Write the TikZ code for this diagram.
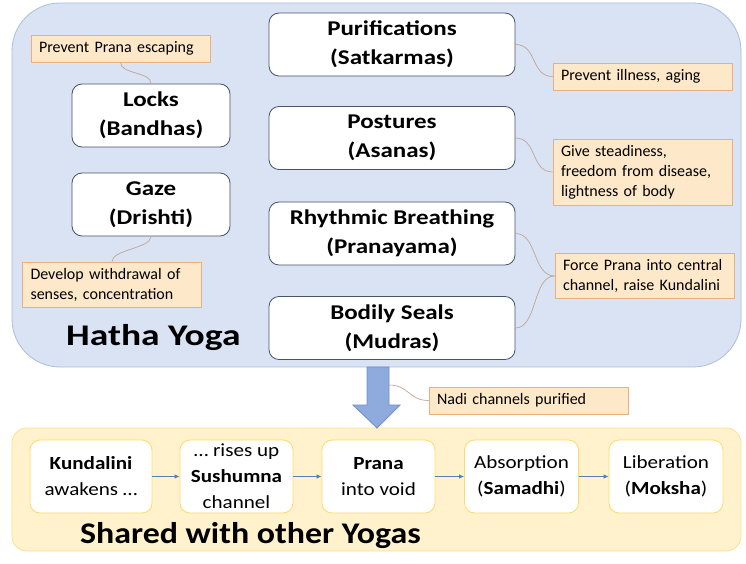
\documentclass[tikz,border=0pt]{standalone}
\usepackage{fontspec}
\setmainfont{Carlito}
\newfontfamily\practicefont[FakeStretch=1.19]{Carlito}
\newfontfamily\stagefont[FakeStretch=1.14]{Carlito}
\newfontfamily\hathafont[FakeStretch=1.25]{Carlito}
\newfontfamily\sharedfont[FakeStretch=1.13]{Carlito}
\usetikzlibrary{arrows.meta}
\definecolor{hathabg}{HTML}{DAE3F3}
\definecolor{hathaline}{HTML}{A9BEDD}
\definecolor{sharedbg}{HTML}{FFF2CC}
\definecolor{sharedline}{HTML}{FFE08A}
\definecolor{stageline}{HTML}{FFD966}
\definecolor{boxline}{HTML}{44546A}
\definecolor{notebg}{HTML}{FDE8C9}
\definecolor{noteline}{HTML}{EBAE7E}
\definecolor{linkcol}{HTML}{BFA597}
\definecolor{flowcol}{HTML}{5A7DB5}
\definecolor{arrowfill}{HTML}{8FAADC}
\definecolor{arrowline}{HTML}{6E8FCB}

\begin{document}
\begin{tikzpicture}[x=1pt,y=-1pt,
  hathabox/.style={draw=hathaline,fill=hathabg,line width=0.8pt,rounded corners=48pt},
  sharedbox/.style={draw=sharedline,fill=sharedbg,line width=0.8pt,rounded corners=15pt},
  practice/.style={draw=boxline,fill=white,line width=0.8pt,rounded corners=10pt,
    minimum width=246pt,minimum height=63pt,align=center,
    font=\practicefont\fontsize{21}{29}\selectfont\bfseries},
  note/.style={draw=noteline,fill=notebg,line width=0.8pt,align=left,
    text width=163pt,inner xsep=8pt,inner ysep=6pt,minimum height=27pt,
    font=\fontsize{16}{20}\selectfont},
  stage/.style={draw=stageline,fill=white,line width=0.8pt,rounded corners=10pt,
    minimum width=113pt,minimum height=73pt,align=center,
    font=\stagefont\fontsize{18.5}{26}\selectfont},
  link/.style={draw=linkcol,line width=0.7pt},
  flow/.style={draw=flowcol,line width=0.8pt,-{Latex[length=5pt,width=4.5pt]}},
  title/.style={anchor=base west,inner sep=0pt}]
  \useasboundingbox (0,0) rectangle (746,564);

  % Containers
  \node[hathabox,minimum width=729pt,minimum height=364pt] (hatha) at (376.5,185) {};
  \node[sharedbox,minimum width=729pt,minimum height=123pt] (shared) at (376.5,489.5) {};

  % Hatha practices
  \node[practice] (purif) at (392,44.5) {Purifications\\(Satkarmas)};
  \node[practice] (postures) at (392,138) {Postures\\(Asanas)};
  \node[practice] (rhythm) at (392,233.5) {Rhythmic Breathing\\(Pranayama)};
  \node[practice] (seals) at (392,328) {Bodily Seals\\(Mudras)};
  \node[practice,minimum width=158pt] (locks) at (151,115.5) {Locks\\(Bandhas)};
  \node[practice,minimum width=158pt] (gaze) at (151,204.5) {Gaze\\(Drishti)};
  \node[title,font=\hathafont\fontsize{30}{34}\selectfont\bfseries] (hathatitle) at (66,345) {Hatha Yoga};

  % Notes
  \node[note] (escape) at (120.5,48.5) {Prevent Prana escaping};
  \node[note] (illness) at (642.5,76.5) {Prevent illness, aging};
  \node[note] (steady) at (642.5,172) {Give steadiness,\\freedom from disease,\\lightness of body};
  \node[note] (force) at (644.5,276) {Force Prana into central\\channel, raise Kundalini};
  \node[note] (withdraw) at (112,284.5) {Develop withdrawal of\\senses, concentration};
  \node[note,text width=183pt] (nadi) at (528.5,400.5) {Nadi channels purified};

  \draw[link] (escape.south) .. controls +(0,12) and +(0,-12) .. (locks.north);
  \draw[link] (gaze.south) .. controls +(0,12) and +(0,-12) .. (withdraw.north);
  \draw[link] (purif.east) .. controls +(22,0) and +(-22,0) .. (illness.west);
  \draw[link] (postures.east) .. controls +(22,0) and +(-22,0) .. (steady.west);
  \draw[link] (rhythm.east) .. controls +(22,0) and +(-22,0) .. (force.west);
  \draw[link] (seals.east) .. controls +(22,0) and +(-22,0) .. (force.west);

  % Big arrow down
  \draw[fill=arrowfill,draw=arrowline,line width=0.8pt]
    (367,367) -- (389,367) -- (389,405) -- (400,405) -- (377,428)
    -- (353,405) -- (367,405) -- cycle;
  \coordinate (arrowside) at (389,385);
  \draw[link] (arrowside) .. controls +(20,0) and +(-20,0) .. (nadi.west);

  % Shared stages
  \node[stage,minimum width=122pt] (kund) at (91,476.5) {\textbf{Kundalini}\\awakens …};
  \node[stage] (rises) at (236.5,476.5) {… rises up\\\textbf{Sushumna}\\channel};
  \node[stage] (prana) at (378.5,476.5) {\textbf{Prana}\\into void};
  \node[stage,minimum width=114pt] (absorb) at (521.5,476.5) {Absorption\\(\textbf{Samadhi})};
  \node[stage,minimum width=114pt] (moksha) at (666,476.5) {Liberation\\(\textbf{Moksha})};
  \node[title,font=\sharedfont\fontsize{30}{34}\selectfont\bfseries] (sharedtitle) at (80,543) {Shared with other Yogas};

  \draw[flow] (kund) -- (rises);
  \draw[flow] (rises) -- (prana);
  \draw[flow] (prana) -- (absorb);
  \draw[flow] (absorb) -- (moksha);
\end{tikzpicture}
\end{document}
